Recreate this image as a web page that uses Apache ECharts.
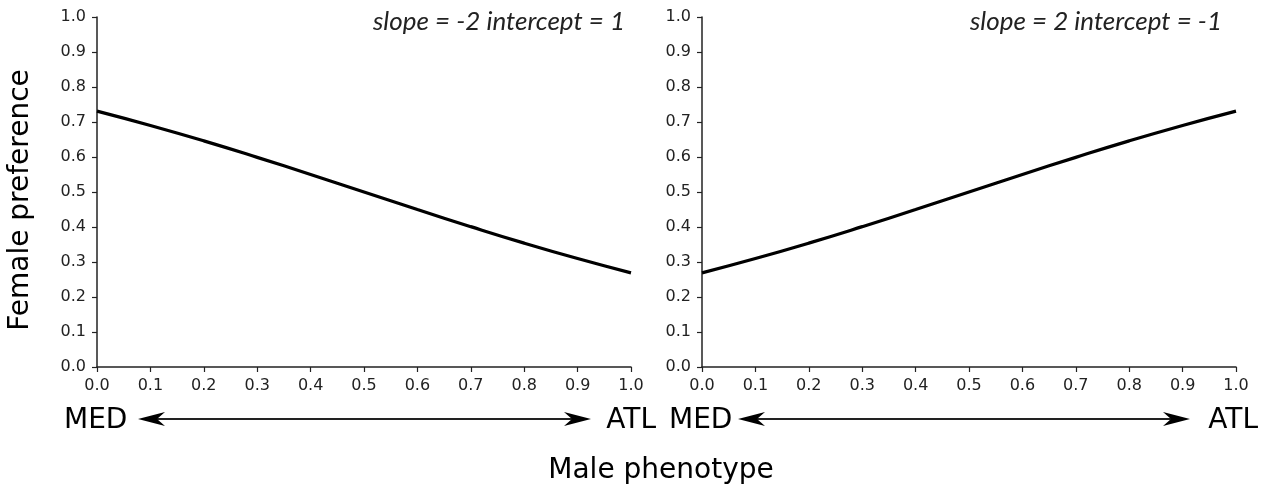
<!DOCTYPE html>
<html><head><meta charset="utf-8">
<script src="https://cdn.jsdelivr.net/npm/echarts@6/dist/echarts.min.js"></script>
<style>html,body{margin:0;padding:0;background:#fff}#c{width:1267px;height:486px}</style>
</head><body><div id="c"></div>
<script>
var xValues = [0.0,0.1,0.2,0.3,0.4,0.5,0.6,0.7,0.8,0.9,1.0];
var leftPref = [0.731,0.690,0.646,0.599,0.550,0.500,0.450,0.401,0.354,0.310,0.269];
var rightPref = [0.269,0.310,0.354,0.401,0.450,0.500,0.550,0.599,0.646,0.690,0.731];
var leftNote = 'slope = -2 intercept = 1';
var rightNote = 'slope = 2 intercept = -1';
var yTitle = 'Female preference';
var xTitle = 'Male phenotype';

function pairs(ys){ return xValues.map(function(x,i){ return [x, ys[i]]; }); }

function ax(extra, margin){
  return Object.assign({
    type: 'value', min: 0, max: 1, interval: 0.1,
    axisLine: {show: true, onZero: false, lineStyle: {color: '#222', width: 1.5}},
    axisTick: {show: true, length: 5, lineStyle: {color: '#222', width: 1.2}},
    splitLine: {show: false},
    axisLabel: {color: '#222', fontFamily: 'DejaVu Sans', fontSize: 16, margin: margin,
      formatter: function(v){ return v.toFixed(1); }}
  }, extra);
}

var lineY = 419;
function arrow(x1, x2){
  var hl = 27, hw = 7, notch = 8;
  return [
    {type:'line', shape:{x1:x1+hl-notch, y1:lineY, x2:x2-hl+notch, y2:lineY}, style:{stroke:'#222', lineWidth:2}},
    {type:'polygon', shape:{points:[[x1,lineY],[x1+hl,lineY-hw],[x1+hl-notch,lineY],[x1+hl,lineY+hw]]}, style:{fill:'#000'}},
    {type:'polygon', shape:{points:[[x2,lineY],[x2-hl,lineY-hw],[x2-hl+notch,lineY],[x2-hl,lineY+hw]]}, style:{fill:'#000'}}
  ];
}
var bigFont = {fontFamily:'DejaVu Sans', fontSize:28, fill:'#000'};
function txt(x, y, s, align){
  return {type:'text', x:x, y:y, style:Object.assign({text:s, textAlign:align, textVerticalAlign:'middle'}, bigFont)};
}
var noteFont = {fontFamily:'Lato', fontStyle:'italic', fontSize:26, fill:'#222'};

var graphic = [].concat(
  arrow(138, 591), arrow(738, 1190),
  [
    txt(64, 421, 'MED', 'left'),
    txt(656, 421, 'ATL', 'right'),
    txt(669, 421, 'MED', 'left'),
    txt(1258, 421, 'ATL', 'right'),
    txt(661, 471, xTitle, 'center'),
    {type:'text', x:21, y:200, rotation:Math.PI/2, style:Object.assign({text:yTitle, textAlign:'center', textVerticalAlign:'middle'}, bigFont)},
    {type:'text', x:625, y:22, style:Object.assign({text:leftNote, textAlign:'right', textVerticalAlign:'middle'}, noteFont)},
    {type:'text', x:1222, y:22, style:Object.assign({text:rightNote, textAlign:'right', textVerticalAlign:'middle'}, noteFont)}
  ]
);

var chart = echarts.init(document.getElementById('c'), null, {renderer:'canvas'});
chart.setOption({
  animation: false,
  backgroundColor: '#fff',
  grid: [
    {left: 97, top: 17, width: 534, height: 350},
    {left: 702, top: 17, width: 534, height: 350}
  ],
  xAxis: [ax({gridIndex:0}, 11), ax({gridIndex:1}, 11)],
  yAxis: [ax({gridIndex:0}, 11), ax({gridIndex:1}, 11)],
  series: [
    {type:'line', xAxisIndex:0, yAxisIndex:0, data:pairs(leftPref), smooth:true, showSymbol:false, lineStyle:{color:'#000', width:3.2}},
    {type:'line', xAxisIndex:1, yAxisIndex:1, data:pairs(rightPref), smooth:true, showSymbol:false, lineStyle:{color:'#000', width:3.2}}
  ],
  graphic: graphic
});
</script></body></html>
